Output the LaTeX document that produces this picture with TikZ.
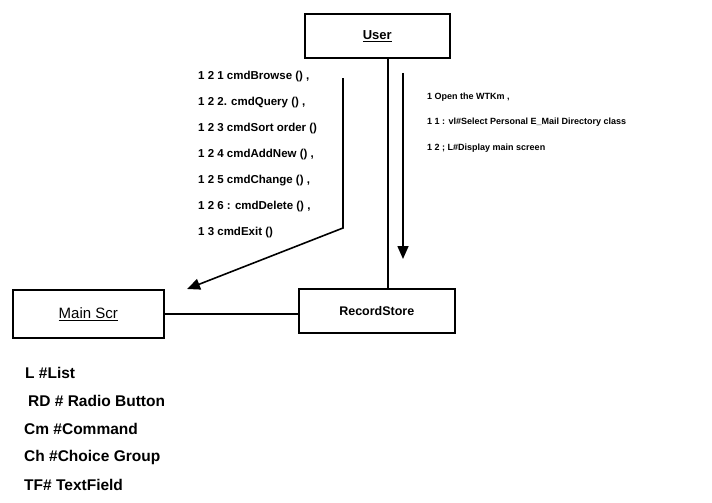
\documentclass[tikz,border=0pt]{standalone}
\usepackage{fontspec}
\setmainfont{Liberation Sans}
\usetikzlibrary{arrows.meta}
\begin{document}
\begin{tikzpicture}[x=1pt,y=-1pt,
  objbox/.style={draw,line width=1.6pt,inner sep=0pt,anchor=north west},
  link/.style={line width=1.6pt},
  msg/.style={line width=1.6pt,-{Triangle[length=13pt,width=11pt]}},
  msgtext/.style={anchor=west,inner sep=0pt,font=\bfseries\fontsize{11.5}{13}\selectfont},
  rectext/.style={anchor=west,inner sep=0pt,font=\bfseries\fontsize{9}{11}\selectfont},
  keytext/.style={anchor=west,inner sep=0pt,font=\bfseries\fontsize{15.5}{17}\selectfont}]
\useasboundingbox (0,0) rectangle (712,503);

% objects
\node[objbox,minimum width=145pt,minimum height=44pt] (user) at (304,13)
  {\bfseries\fontsize{13}{15}\selectfont\underline{User}};
\node[objbox,minimum width=151pt,minimum height=48pt] (main) at (12,289)
  {\fontsize{15}{17}\selectfont\underline{Main Scr}};
\node[objbox,minimum width=156pt,minimum height=44pt] (rec) at (298,288)
  {\bfseries\fontsize{12.5}{14}\selectfont RecordStore};

% links between objects
\coordinate (lx) at (388,0);
\draw[link] (user.south -| lx) -- (rec.north -| lx);
\draw[link] (main.east) -- (main.east -| rec.west);

% message arrows
\coordinate (m1s) at (403,73);
\coordinate (m1e) at (403,259);
\draw[msg] (m1s) -- (m1e);
\coordinate (m2s) at (343,78);
\coordinate (m2b) at (343,228);
\coordinate (m2e) at (187,289);
\draw[msg] (m2s) -- (m2b) -- (m2e);

% messages to the main screen
\node[msgtext] (a1) at (198,77)  {1 2 1  cmdBrowse () ,};
\node[msgtext] (a2) at (198,103) {1 2 2. cmdQuery () ,};
\node[msgtext] (a3) at (198,129) {1 2 3  cmdSort order ()};
\node[msgtext] (a4) at (198,155) {1 2 4  cmdAddNew () ,};
\node[msgtext] (a5) at (198,181) {1 2 5  cmdChange () ,};
\node[msgtext] (a6) at (198,207) {1 2 6 : cmdDelete () ,};
\node[msgtext] (a7) at (198,233) {1 3  cmdExit  ()};

% messages to the record store
\node[rectext] (b1) at (427,97)  {1  Open the WTKm ,};
\node[rectext] (b2) at (427,122) {1 1 : vl\#Select Personal E\_Mail Directory class};
\node[rectext] (b3) at (427,148) {1 2 ; L\#Display main screen};

% key
\node[keytext] (k1) at (25,373) {L \#List};
\node[keytext] (k2) at (28,401) {RD \# Radio Button};
\node[keytext] (k3) at (24,429) {Cm \#Command};
\node[keytext] (k4) at (24,457) {Ch \#Choice Group};
\node[keytext] (k5) at (24,485) {TF\# TextField};
\end{tikzpicture}
\end{document}
